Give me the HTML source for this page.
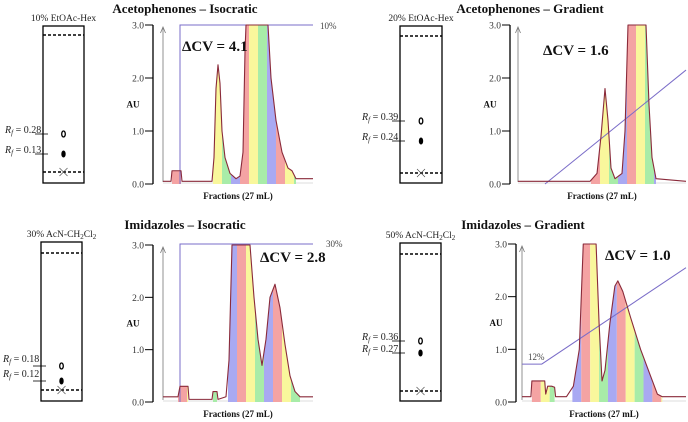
<!DOCTYPE html>
<html><head><meta charset="utf-8">
<style>
html,body{margin:0;padding:0;background:#fff;}
svg{display:block;font-family:"Liberation Serif",serif;}
</style></head>
<body>
<svg id="fig" width="688" height="422" viewBox="0 0 688 422"></svg>
<script>
// ---------- data (fraction units, AU) ----------
const tlTraceX=[0,1.6,1.8,3.6,3.8,9.8,10.2,10.6,11,11.4,11.8,12.4,13.4,14.6,15.4,16,16.4,16.6,21,21.6,22.6,23.8,25,25.8,26.6,30];
const tlTraceY=[0.05,0.05,0.25,0.25,0.05,0.05,0.5,1.8,2.25,1.9,1.0,0.5,0.2,0.1,0.15,0.6,2.5,3,3,2,1.2,0.6,0.3,0.25,0.1,0.1];
const tlFill=[[1.8,3.6],[10,26.6]];
const tlGradX=[3.4,3.4,30];
const tlGradY=[0,3,3];

const trTraceX=[0,14.4,15.8,16.6,17.4,18,18.6,19.4,20.8,21.4,22,25.6,26.2,26.8,27.6,33.6];
const trTraceY=[0.05,0.05,0.2,0.9,1.8,1.2,0.3,0.1,0.2,1.0,3,3,1.5,0.5,0.1,0.05];
const trFill=[[14.6,27.6]];
const trGradX=[5.4,33.6];
const trGradY=[0,2.15];

const blTraceX=[0,3,3.4,5,5.2,9.8,10,10.8,11,12.6,13.2,13.8,17.4,18.2,19,19.8,20.6,21.4,22.4,23.4,24.4,25.4,26.4,27.4,30];
const blTraceY=[0.1,0.1,0.3,0.3,0.05,0.05,0.2,0.2,0.05,0.1,0.8,3,3,2,1.2,0.7,1.2,2,2.25,1.8,1.1,0.5,0.2,0.1,0.1];
const blFill=[[3,5],[10,10.8],[13,27.4]];
const blGradX=[3.4,3.4,30];
const blGradY=[0,3.02,3.02];

const brTraceX=[0,1.8,2,4.6,4.8,5.2,6,6.6,6.8,9,10.4,11.6,12.4,15,15.6,16.2,16.8,17.8,18.8,19.4,20.4,22,24,26,27.4,28.4,33.2];
const brTraceY=[0.1,0.1,0.4,0.4,0.15,0.3,0.3,0.28,0.1,0.1,0.3,1.0,3,3,1.5,0.4,0.6,1.5,2.2,2.3,2.1,1.6,1.0,0.5,0.15,0.1,0.1];
const brFill=[[2,6.6],[10.2,28.4]];
const brGradX=[0,4,33.2];
const brGradY=[0.72,0.72,2.55];

const yTicks=[0,1,2,3];
const yTickLabels=["0.0","1.0","2.0","3.0"];

// ---------- layout ----------
const NS="http://www.w3.org/2000/svg";
const svg=document.getElementById('fig');
function el(tag,attrs,parent){const e=document.createElementNS(NS,tag);for(const k in attrs)e.setAttribute(k,attrs[k]);(parent||svg).appendChild(e);return e;}
function txt(x,y,s,attrs){const t=el('text',Object.assign({x:x,y:y},attrs||{}));t.innerHTML=s;return t;}
const bandColors=["#f4a3a3","#f9f79c","#a8eca8","#a9a9f2"];

const charts=[
 {id:'tl',title:'Acetophenones – Isocratic',tx:185,ty:13,axisX:153,plotX0:163,plotX1:313,dom:30,yTop:25,yBot:184,
  tX:tlTraceX,tY:tlTraceY,fill:tlFill,gX:tlGradX,gY:tlGradY,cv:'ΔCV = 4.1',cvx:182,cvy:51,gl:'10%',glx:320,gly:29,
  tlc:{x:43,y:26,w:41,h:157,top:35,bot:172,label:'10% EtOAc-Hex',spots:[134,154],rf:['0.28','0.13'],rfy:[133,153]}},
 {id:'tr',title:'Acetophenones – Gradient',tx:530,ty:13,axisX:510,plotX0:518,plotX1:686,dom:33.6,yTop:25,yBot:184,
  tX:trTraceX,tY:trTraceY,fill:trFill,gX:trGradX,gY:trGradY,cv:'ΔCV = 1.6',cvx:543,cvy:55,gl:null,
  tlc:{x:400,y:26,w:42,h:157,top:36,bot:173,label:'20% EtOAc-Hex',spots:[121,141],rf:['0.39','0.24'],rfy:[120,140]}},
 {id:'bl',title:'Imidazoles – Isocratic',tx:185,ty:229,axisX:153,plotX0:163,plotX1:313,dom:30,yTop:245,yBot:402,
  tX:blTraceX,tY:blTraceY,fill:blFill,gX:blGradX,gY:blGradY,cv:'ΔCV = 2.8',cvx:260,cvy:262,gl:'30%',glx:326,gly:247,
  tlc:{x:41,y:242,w:41,h:159,top:253,bot:390,label:'30% AcN-CH<tspan font-size="7" dy="2">2</tspan><tspan dy="-2">Cl</tspan><tspan font-size="7" dy="2">2</tspan>',spots:[366,381],rf:['0.18','0.12'],rfy:[362,377]}},
 {id:'br',title:'Imidazoles – Gradient',tx:523,ty:229,axisX:516,plotX0:522,plotX1:686,dom:33.2,yTop:244,yBot:402,
  tX:brTraceX,tY:brTraceY,fill:brFill,gX:brGradX,gY:brGradY,cv:'ΔCV = 1.0',cvx:605,cvy:260,gl:'12%',glx:528,gly:360,
  tlc:{x:400,y:243,w:41,h:158,top:254,bot:391,label:'50% AcN-CH<tspan font-size="7" dy="2">2</tspan><tspan dy="-2">Cl</tspan><tspan font-size="7" dy="2">2</tspan>',spots:[341,353],rf:['0.36','0.27'],rfy:[340,352]}}
];

charts.forEach(c=>{
  const g=el('g',{});
  
  
  const xs=v=>c.plotX0+v/c.dom*(c.plotX1-c.plotX0);
  const ys=v=>c.yBot-Math.min(v,3)/3*(c.yBot-c.yTop);
  const t=txt(c.tx,c.ty,c.title,{'text-anchor':'middle','font-size':'13','font-weight':'bold',fill:'#111'});
  g.appendChild(t);
  
  

  const p=c.tlc;
  const tg=el('g',{},g);
  
  
  const lab=txt(p.x+p.w/2,p.y-5,p.label,{'text-anchor':'middle','font-size':'9.5',fill:'#222'});tg.appendChild(lab);
  el('rect',{x:p.x,y:p.y,width:p.w,height:p.h,fill:'none',stroke:'#000','stroke-width':'1.3'},tg);
  el('line',{x1:p.x,x2:p.x+p.w,y1:p.top,y2:p.top,stroke:'#000','stroke-width':'1.5','stroke-dasharray':'3,2'},tg);
  el('line',{x1:p.x,x2:p.x+p.w,y1:p.bot,y2:p.bot,stroke:'#000','stroke-width':'1.5','stroke-dasharray':'3,2'},tg);
  const cx=p.x+p.w/2;
  el('path',{d:`M${cx-4},${p.bot-4}L${cx+4},${p.bot+4}M${cx+4},${p.bot-4}L${cx-4},${p.bot+4}`,stroke:'#444','stroke-width':'0.6'},tg);
  el('ellipse',{cx:cx,cy:p.spots[0],rx:1.8,ry:3,fill:'none',stroke:'#000','stroke-width':'1.3'},tg);
  el('ellipse',{cx:cx,cy:p.spots[1],rx:2.2,ry:3.5,fill:'#000'},tg);
  for(let i=0;i<2;i++){
    const r=txt(p.x-38,p.rfy[i],'<tspan font-style="italic">R</tspan><tspan font-size="7" dy="2" font-style="italic">f</tspan><tspan dy="-2"> = '+p.rf[i]+'</tspan>',{'font-size':'10',fill:'#222'});
    tg.appendChild(r);
    el('line',{x1:p.x-8,x2:p.x+5,y1:p.spots[i],y2:p.spots[i],stroke:'#000','stroke-width':'0.8'},tg);
  }

  const ag=el('g',{},g);
  
  
  el('line',{x1:c.axisX,x2:c.axisX,y1:ys(3),y2:ys(0),stroke:'#000','stroke-width':'1.3'},ag);
  yTicks.forEach((v,i)=>{
    el('line',{x1:c.axisX-8,x2:c.axisX,y1:ys(v),y2:ys(v),stroke:'#000','stroke-width':'1'},ag);
    ag.appendChild(txt(c.axisX-9,ys(v)+3.5,yTickLabels[i],{'text-anchor':'end','font-size':'9.5',fill:'#333'}));
  });
  const au=txt(c.axisX-20,(c.yTop+c.yBot)/2+3,'AU',{'text-anchor':'middle','font-size':'9','font-weight':'bold',fill:'#111'});
  g.appendChild(au);
  
  
  const xl=txt((c.plotX0+c.plotX1)/2,c.yBot+15,'Fractions (27 mL)',{'text-anchor':'middle','font-size':'9','font-weight':'bold',fill:'#111'});
  g.appendChild(xl);
  
  

  el('line',{x1:c.plotX0,x2:c.plotX0,y1:ys(0)-2,y2:c.yTop+2,stroke:'#777','stroke-width':'0.8'},g);
  el('path',{d:`M${c.plotX0-2.5},${c.yTop+8}L${c.plotX0},${c.yTop+2}L${c.plotX0+2.5},${c.yTop+8}`,fill:'none',stroke:'#777','stroke-width':'0.8'},g);
  el('line',{x1:c.plotX0,x2:c.plotX1,y1:ys(0)-1,y2:ys(0)-1,stroke:'#bbb','stroke-width':'0.6'},g);

  let d='M'+xs(c.tX[0])+','+ys(0);
  c.tX.forEach((x,i)=>{d+='L'+xs(x)+','+ys(c.tY[i]);});
  d+='L'+xs(c.tX[c.tX.length-1])+','+ys(0)+'Z';
  const cp=el('clipPath',{id:'clip-'+c.id},g);
  el('path',{d:d},cp);
  const fg=el('g',{'clip-path':'url(#clip-'+c.id+')'},g);
  
  
  let k=0;const bw=1.8;
  c.fill.forEach(r=>{
    for(let s=r[0];s<r[1]-0.01;s+=bw){
      const e=Math.min(s+bw,r[1]);
      const b=el('rect',{x:xs(s),y:c.yTop-2,width:xs(e)-xs(s),height:c.yBot-c.yTop+4,fill:bandColors[k%4]},fg);
      
      
      k++;
    }
  });
  let gd='';c.gX.forEach((x,i)=>{gd+=(i?'L':'M')+xs(x)+','+(c.yBot-c.gY[i]/3*(c.yBot-c.yTop));});
  const gl=el('path',{d:gd,fill:'none',stroke:'#7a6cc8','stroke-width':'1'},g);
  
  
  let td='';c.tX.forEach((x,i)=>{td+=(i?'L':'M')+xs(x)+','+ys(c.tY[i]);});
  const tr=el('path',{d:td,fill:'none',stroke:'#8a2a3a','stroke-width':'1.1','stroke-linejoin':'round'},g);
  
  
  const cv=txt(c.cvx,c.cvy,c.cv,{'font-size':'15','font-weight':'bold',fill:'#111'});
  g.appendChild(cv);
  
  
  if(c.gl){g.appendChild(txt(c.glx,c.gly,c.gl,{'font-size':'9',fill:'#444'}));}
});
</script>
</body></html>
